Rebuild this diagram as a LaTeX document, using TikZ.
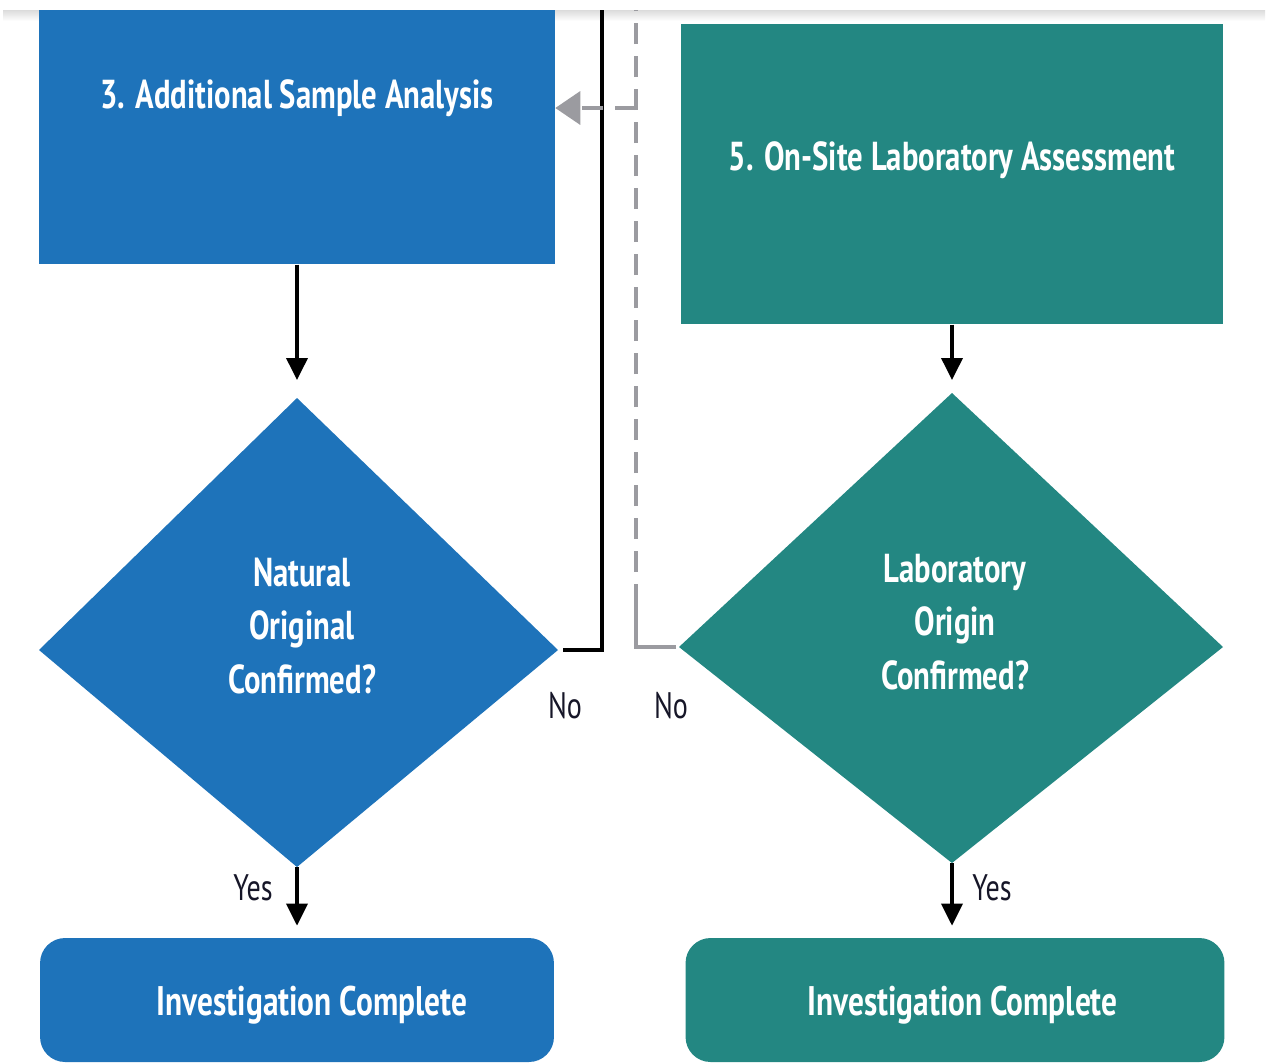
\documentclass[tikz,border=0pt]{standalone}
\usepackage{fontspec}
\setmainfont{PT Sans}[FakeStretch=0.76]
\usepackage{xcolor}
\usetikzlibrary{arrows.meta}
\definecolor{flowblue}{RGB}{30,115,186}
\definecolor{flowteal}{RGB}{35,135,130}
\definecolor{nogray}{RGB}{155,155,160}
\definecolor{labelink}{RGB}{22,22,40}

\begin{document}
\begin{tikzpicture}[x=0.02cm,y=-0.02cm]
\tikzset{procbox/.style={anchor=north,inner sep=0pt,text=white,font=\bfseries\fontsize{23}{28}\selectfont}}
\tikzset{decidetext/.style={text=white,align=center,font=\bfseries\fontsize{23}{30.6}\selectfont}}
\tikzset{endbox/.style={rounded corners=0.5cm,inner sep=0pt,text=white,minimum height=2.48cm,font=\bfseries\fontsize{23.5}{28}\selectfont}}
\tikzset{arr/.style={line width=2.1pt,-{Triangle[width=0.42cm,length=0.44cm]}}}
\tikzset{yesno/.style={text=labelink,font=\fontsize{21}{24}\selectfont}}
\tikzset{noline/.style={line width=2.1pt}}
\tikzset{grayline/.style={line width=2.1pt,nogray}}

\useasboundingbox (0,0) rectangle (1272,1063);
\shade[top color=gray!28,bottom color=white] (3,10) rectangle (1265,21);

% top boxes
\node[procbox,fill=flowblue,minimum width=10.32cm,text height=1.96cm,text depth=3.12cm]
  (sample) at (297,10) {3. Additional Sample Analysis};
\node[procbox,fill=flowteal,minimum width=10.84cm,text height=2.92cm,text depth=3.08cm]
  (onsite) at (952,24) {5. On-Site Laboratory Assessment};

% diamonds
\coordinate (ntop) at (297,398);
\coordinate (nright) at (558,650);
\coordinate (nbot) at (297,867);
\coordinate (nleft) at (39,650);
\fill[flowblue] (ntop) -- (nright) -- (nbot) -- (nleft) -- cycle;
\node[decidetext] (natural) at (302,626) {Natural\\Original\\Confirmed?};

\coordinate (ltop) at (952,393);
\coordinate (lright) at (1223,647);
\coordinate (lbot) at (952,863);
\coordinate (lleft) at (679,647);
\fill[flowteal] (ltop) -- (lright) -- (lbot) -- (lleft) -- cycle;
\node[decidetext] (laborigin) at (955,622) {Laboratory\\Origin\\Confirmed?};

% bottom boxes
\node[endbox,fill=flowblue,minimum width=10.28cm] (done1) at (297,1000)
  {\hspace*{0.6cm}\raisebox{-0.1cm}[\height][\depth]{Investigation Complete}};
\node[endbox,fill=flowteal,minimum width=10.78cm] (done2) at (955,1000)
  {\hspace*{0.3cm}\raisebox{-0.1cm}[\height][\depth]{Investigation Complete}};

% connectors
\draw[arr,shorten >=0.36cm] (sample.south) -- (ntop);
\draw[arr,shorten >=0.26cm] (onsite.south) -- (ltop);
\draw[arr,shorten >=0.24cm] (nbot) -- (nbot |- done1.north);
\draw[arr,shorten >=0.24cm] (lbot) -- (lbot |- done2.north);

\coordinate (blacktop) at (602,10);
\draw[noline,shorten <=0.1cm] (nright) -| (blacktop);

\coordinate (graycorner) at (636,605);
\coordinate (graybranch) at (636,108);
\coordinate (graytop) at (636,10);
\draw[grayline,shorten <=0.06cm] (lleft) -| (graycorner);
\draw[grayline,dash pattern=on 0.42cm off 0.24cm] (graycorner) -- (graytop);
\draw[grayline,dash pattern=on 0.42cm off 0.24cm,-{Triangle[width=0.66cm,length=0.5cm]}]
  (graybranch) -- (sample.east |- graybranch);

% labels
\node[yesno] (no1) at (565,706) {No};
\node[yesno] (no2) at (671,706) {No};
\node[yesno] (yes1) at (253,888) {Yes};
\node[yesno] (yes2) at (992,888) {Yes};

\end{tikzpicture}
\end{document}
